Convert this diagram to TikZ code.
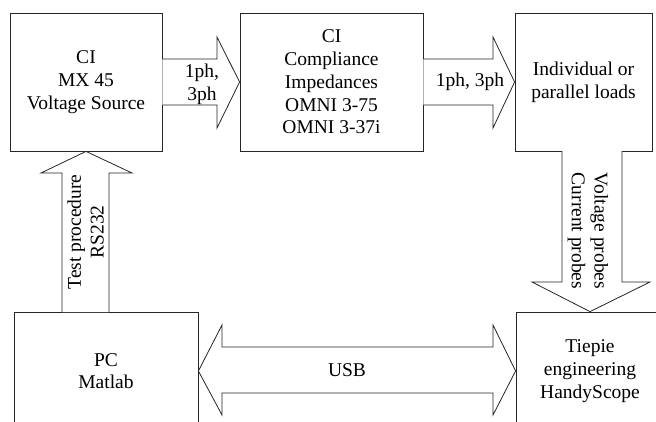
\documentclass[tikz,border=0pt]{standalone}
\usepackage{fontspec}
\setmainfont{Liberation Serif}
\usetikzlibrary{calc}
\begin{document}
\begin{tikzpicture}[x=1pt,y=-1pt,
  line join=miter,
  every node/.style={font=\fontsize{19.5}{22.7}\selectfont, text=black},
  blk/.style={draw=black!85, line width=0.8pt, inner sep=0pt, align=center},
  barrow/.style={draw=black!85, line width=0.8pt, fill=white},
  lbl/.style={align=center, inner sep=0pt}]
\useasboundingbox (0,0) rectangle (656,421);
\clip (0,0) rectangle (656,421);

\node[blk, minimum width=152, minimum height=138] (b1) at (86,82) {CI\\MX 45\\Voltage Source};
\node[blk, minimum width=183, minimum height=138] (b2) at (331.5,82) {CI\\Compliance\\Impedances\\OMNI 3-75\\OMNI 3-37i};
\node[blk, minimum width=137, minimum height=138] (b3) at (583.5,82) {Individual or\\parallel loads};
\node[blk, minimum width=184, minimum height=118] (b4) at (106,371) {PC\\Matlab};
\node[blk, minimum width=148, minimum height=118] (b5) at (590,371) {Tiepie\\engineering\\HandyScope};

% arrow b1 -> b2
\draw[barrow] ($(b1.east)+(0,-23)$) -- (217,59) -- (217,37) -- (b2.west) -- (217,128) -- (217,105) -- ($(b1.east)+(0,23)$);
\node[lbl] (l1) at (202,84) {1ph,\\3ph};

% arrow b2 -> b3
\draw[barrow] ($(b2.east)+(0,-23)$) -- (493,59) -- (493,37) -- (b3.west) -- (493,128) -- (493,105) -- ($(b2.east)+(0,23)$);
\node[lbl] (l2) at (470,82) {1ph, 3ph};

% arrow b4 -> b1 (up)
\draw[barrow] (62,312) -- (62,173) -- (41,173) -- (b1.south) -- (132,173) -- (109,173) -- (109,312);
\node[lbl, rotate=90] (l3) at (85.5,232) {Test procedure\\RS232};

% arrow b3 -> b5 (down)
\draw[barrow] (562,151) -- (562,282) -- (532,282) -- (b5.north) -- (650,282) -- (622,282) -- (622,151);
\node[lbl, rotate=-90] (l4) at (588,231) {Voltage probes\\Current probes};

% double arrow b4 <-> b5
\draw[barrow] (b4.east) -- (222,325) -- (222,347) -- (493,347) -- (493,325) -- (b5.west) -- (493,415) -- (493,393) -- (222,393) -- (222,415) -- cycle;
\node[lbl] (l5) at (347,370) {USB};
\end{tikzpicture}
\end{document}
